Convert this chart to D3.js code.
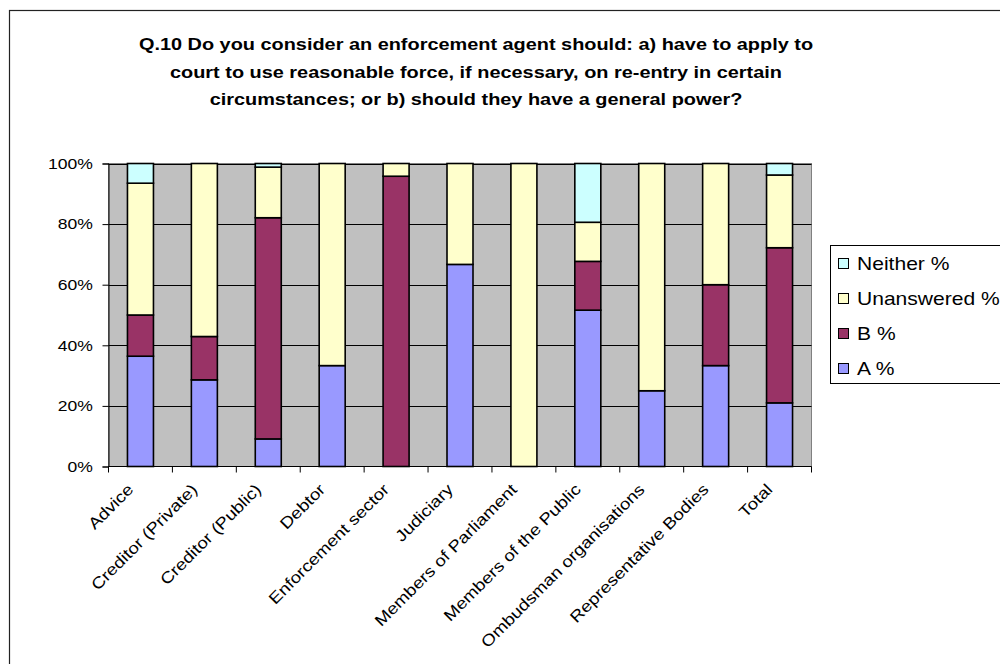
<!DOCTYPE html>
<html>
<head>
<meta charset="utf-8">
<script src="https://cdn.jsdelivr.net/npm/d3@7"></script>
<style>
  html, body { margin: 0; padding: 0; background: #fff; }
  svg { display: block; font-family: Arial, "Liberation Sans", sans-serif; }
</style>
</head>
<body>
<svg id="chart" width="1000" height="664"></svg>
<script>
// Respondent groups and share of answers (percent) for each
const categories = ["Advice", "Creditor (Private)", "Creditor (Public)", "Debtor", "Enforcement sector",
  "Judiciary", "Members of Parliament", "Members of the Public", "Ombudsman organisations",
  "Representative Bodies", "Total"];
const aPct          = [36.4, 28.6,  9.1, 33.3,  0.0, 66.7,   0.0, 51.6, 25.0, 33.3, 21.0];
const bPct          = [13.6, 14.3, 73.0,  0.0, 95.8,  0.0,   0.0, 16.1,  0.0, 26.7, 51.2];
const unansweredPct = [43.5, 57.1, 16.7, 66.7,  4.2, 33.3, 100.0, 12.9, 75.0, 40.0, 24.0];
const neitherPct    = [ 6.5,  0.0,  1.2,  0.0,  0.0,  0.0,   0.0, 19.4,  0.0,  0.0,  3.8];
const seriesNames   = ["A %", "B %", "Unanswered %", "Neither %"];
const seriesColors  = ["#9999FF", "#993366", "#FFFFCC", "#CCFFFF"];
const yTicks        = [0, 20, 40, 60, 80, 100];
const titleLines    = [
  "Q.10 Do you consider an enforcement agent should: a) have to apply to",
  "court to use reasonable force, if necessary, on re-entry in certain",
  "circumstances; or b) should they have a general power?"
];

const rows = categories.map((c, i) => ({
  cat: c, "A %": aPct[i], "B %": bPct[i], "Unanswered %": unansweredPct[i], "Neither %": neitherPct[i]
}));

// the chart's type is set a little wider than regular Arial
const WIDE = 1.17;

const svg = d3.select("#chart");

// outer chart frame
svg.append("rect").attr("x", 9.5).attr("y", 10.5).attr("width", 1100).attr("height", 800)
  .attr("fill", "#fff").attr("stroke", "#222").attr("stroke-width", 1.2);

// title
svg.append("g").selectAll("g").data(titleLines).join("g")
  .attr("transform", (d, i) => `translate(476,${50 + i * 27.5}) scale(${WIDE},1)`)
  .append("text")
  .attr("text-anchor", "middle").attr("font-weight", "bold").attr("font-size", 17)
  .attr("fill", "#000").text(d => d);

const plot = { left: 108.5, right: 811.5, top: 163.5, bottom: 466.5 };

const x = d3.scaleBand().domain(categories).range([plot.left, plot.right]).paddingInner(0).paddingOuter(0);
const y = d3.scaleLinear().domain([0, 100]).range([plot.bottom, plot.top]);

// plot background
svg.append("rect").attr("x", plot.left).attr("y", plot.top)
  .attr("width", plot.right - plot.left).attr("height", plot.bottom - plot.top)
  .attr("fill", "#C0C0C0").attr("stroke", "#808080").attr("stroke-width", 1);

// horizontal gridlines
svg.append("g").selectAll("line").data(yTicks.filter(t => t > 0)).join("line")
  .attr("x1", plot.left).attr("x2", plot.right)
  .attr("y1", d => Math.round(y(d)) + 0.5).attr("y2", d => Math.round(y(d)) + 0.5)
  .attr("stroke", "#000").attr("stroke-width", 1);

// stacked bars
const stack = d3.stack().keys(seriesNames)(rows);
const barW = 26;
const color = d3.scaleOrdinal().domain(seriesNames).range(seriesColors);

svg.append("g").selectAll("g").data(stack).join("g")
  .attr("fill", d => color(d.key))
  .selectAll("rect").data(d => d.filter(s => s[1] - s[0] > 0)).join("rect")
  .attr("x", d => x(d.data.cat) + (x.bandwidth() - barW) / 2)
  .attr("y", d => y(d[1]))
  .attr("width", barW)
  .attr("height", d => y(d[0]) - y(d[1]))
  .attr("stroke", "#000").attr("stroke-width", 1.6);

// y axis
const yAxis = svg.append("g").attr("transform", `translate(${plot.left},0)`)
  .call(d3.axisLeft(y).tickValues(yTicks).tickFormat(d => d + "%").tickSize(6).tickPadding(7.3));
yAxis.select(".domain").attr("stroke", "#000");
yAxis.selectAll("line").attr("stroke", "#000");
yAxis.selectAll("text").attr("font-size", 15).attr("fill", "#000")
  .attr("font-family", "Arial, 'Liberation Sans', sans-serif")
  .attr("transform", `scale(${WIDE},1)`);

// x axis: ticks sit on the category boundaries
const xAxisG = svg.append("g").attr("transform", `translate(0,${plot.bottom})`);
xAxisG.append("line").attr("x1", plot.left).attr("x2", plot.right).attr("y1", 0).attr("y2", 0)
  .attr("stroke", "#000").attr("stroke-width", 1);
const boundaries = categories.map(c => x(c)).concat([plot.right]);
xAxisG.selectAll("line.tick").data(boundaries).join("line").attr("class", "tick")
  .attr("x1", d => d).attr("x2", d => d).attr("y1", 0).attr("y2", 6)
  .attr("stroke", "#000").attr("stroke-width", 1);
xAxisG.selectAll("g.lbl").data(categories).join("g").attr("class", "lbl")
  .attr("transform", d => `translate(${x(d) + x.bandwidth() / 2 - 6},${24}) rotate(-45) scale(${WIDE},1)`)
  .append("text")
  .attr("text-anchor", "end").attr("font-size", 16).attr("fill", "#000")
  .text(d => d);

// legend
const legend = svg.append("g");
legend.append("rect").attr("x", 830.5).attr("y", 245.5).attr("width", 250).attr("height", 138)
  .attr("fill", "#fff").attr("stroke", "#000").attr("stroke-width", 1);
const legendOrder = seriesNames.slice().reverse();
const li = legend.selectAll("g.item").data(legendOrder).join("g").attr("class", "item")
  .attr("transform", (d, i) => `translate(838,${263 + i * 35})`);
li.append("rect").attr("x", 0.5).attr("y", -4.5).attr("width", 10).attr("height", 10)
  .attr("fill", d => color(d)).attr("stroke", "#000").attr("stroke-width", 1);
li.append("g").attr("transform", `translate(19,6.5) scale(${WIDE},1)`)
  .append("text").attr("font-size", 18).attr("fill", "#000").text(d => d);
</script>
</body>
</html>
